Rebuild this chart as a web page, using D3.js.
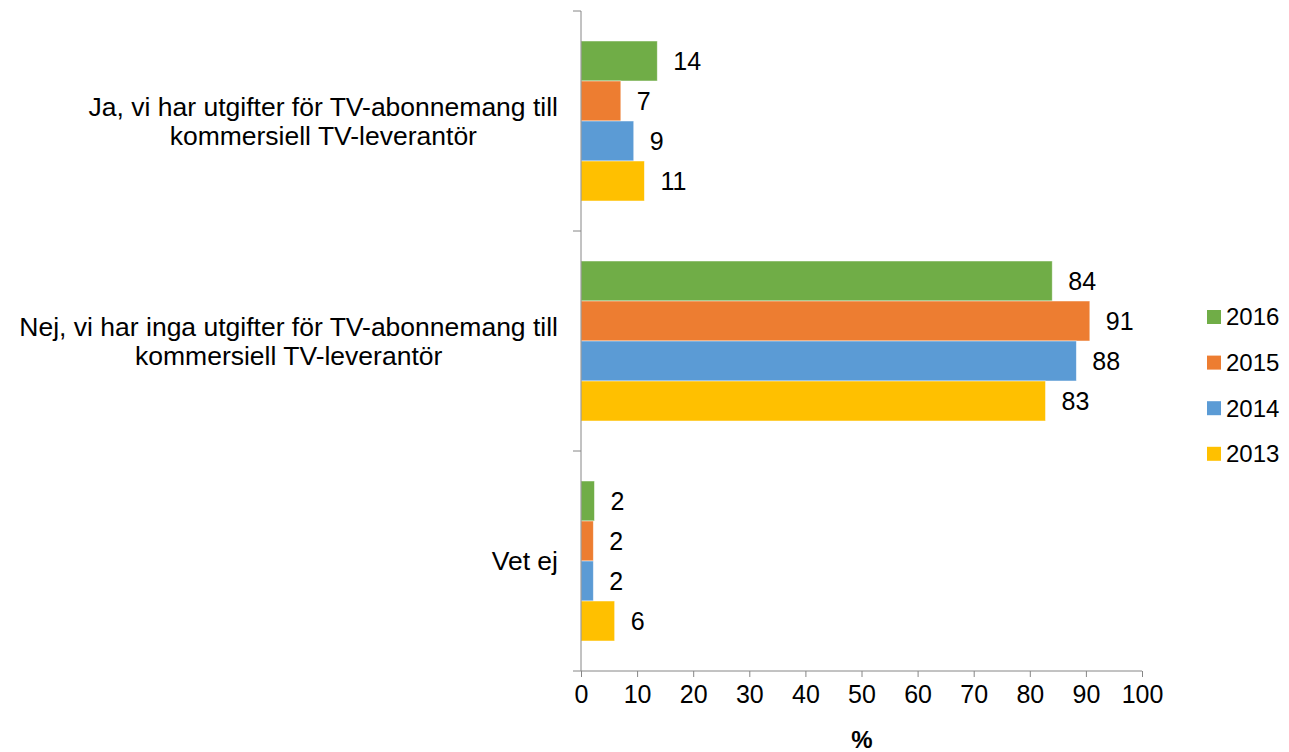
<!DOCTYPE html>
<meta charset="utf-8">
<style>
  body { margin: 0; background: #fff; }
  text { font-family: "Liberation Sans", Arial, sans-serif; fill: #000; }
  .axis path, .axis line { stroke: #868686; }
</style>
<body>
<script src="https://d3js.org/d3.v7.min.js"></script>
<script>

// categories (two-line labels) and series
var categories = ["Ja", "Nej", "Vet ej"];
var categoryLines = [
  ["Ja, vi har utgifter för TV-abonnemang till", "kommersiell TV-leverantör"],
  ["Nej, vi har inga utgifter för TV-abonnemang till", "kommersiell TV-leverantör"],
  ["Vet ej"]
];
var years = ["2016", "2015", "2014", "2013"];
var colors = ["#70AD47", "#ED7D31", "#5B9BD5", "#FFC000"];

// bar lengths, per year, in category order
var v2016 = [13.6, 84.0, 2.4];
var v2015 = [7.1, 90.7, 2.2];
var v2014 = [9.4, 88.3, 2.2];
var v2013 = [11.3, 82.8, 6.0];
// the printed data labels
var l2016 = [14, 84, 2];
var l2015 = [7, 91, 2];
var l2014 = [9, 88, 2];
var l2013 = [11, 83, 6];

var xTicks = [0, 10, 20, 30, 40, 50, 60, 70, 80, 90, 100];

var series = [v2016, v2015, v2014, v2013];
var labels = [l2016, l2015, l2014, l2013];

var W = 1289, H = 752;
var plotLeft = 581, plotRight = 1142, plotTop = 11, plotBottom = 671;

var svg = d3.select("body").append("svg")
    .attr("width", W)
    .attr("height", H);

var x = d3.scaleLinear().domain([0, 100]).range([plotLeft, plotRight]);
var y0 = d3.scaleBand().domain(categories).range([plotTop, plotBottom]);
var y1 = d3.scaleBand().domain(years).range([0, y0.bandwidth()]).paddingOuter(0.75);

// bars
var groups = svg.selectAll(".cat")
    .data(categories)
  .enter().append("g")
    .attr("class", "cat")
    .attr("transform", function(d) { return "translate(0," + y0(d) + ")"; });

groups.each(function(cat, ci) {
  var g = d3.select(this);
  years.forEach(function(yr, si) {
    g.append("rect")
      .attr("x", x(0))
      .attr("y", y1(yr))
      .attr("width", x(series[si][ci]) - x(0))
      .attr("height", y1.bandwidth())
      .attr("fill", colors[si])
      .attr("stroke", "rgba(255,255,255,0.6)")
      .attr("stroke-width", 0.8);
    g.append("text")
      .attr("x", x(series[si][ci]) + 16)
      .attr("y", y1(yr) + y1.bandwidth() / 2)
      .attr("dy", "0.35em")
      .style("font-size", "25px")
      .text(labels[si][ci]);
  });
});

// x axis
var xAxis = svg.append("g")
    .attr("class", "axis")
    .attr("transform", "translate(0," + plotBottom + ")")
    .call(d3.axisBottom(x).tickValues(xTicks).tickSize(6).tickSizeOuter(6).tickPadding(8));
xAxis.selectAll("text").style("font-size", "25px");
xAxis.select(".domain").attr("d", "M" + plotLeft + ",0H" + plotRight);

svg.append("text")
    .attr("x", 862)
    .attr("y", 740)
    .attr("dy", "0.35em")
    .attr("text-anchor", "middle")
    .style("font-size", "24px")
    .style("font-weight", "bold")
    .text("%");

// y axis: line with ticks at band boundaries
var yAxis = svg.append("g").attr("class", "axis");
yAxis.append("line")
    .attr("x1", plotLeft).attr("x2", plotLeft)
    .attr("y1", plotTop).attr("y2", plotBottom);
var bounds = categories.map(function(c) { return y0(c); }).concat([plotBottom]);
yAxis.selectAll(".tk")
    .data(bounds)
  .enter().append("line")
    .attr("class", "tk")
    .attr("x1", plotLeft - 8).attr("x2", plotLeft)
    .attr("y1", function(d) { return d; })
    .attr("y2", function(d) { return d; });

// category labels: block right-aligned at the axis, lines centred inside it
var catFs = 26.5;
categories.forEach(function(c, i) {
  var lines = categoryLines[i];
  var cy = y0(c) + y0.bandwidth() / 2;
  var lh = 29.5;
  var t = svg.append("text")
      .attr("text-anchor", "middle")
      .style("font-size", catFs + "px");
  var spans = lines.map(function(s, j) {
    return t.append("tspan")
      .attr("y", cy + (j - (lines.length - 1) / 2) * lh)
      .attr("dy", "0.35em")
      .text(s);
  });
  var widest = d3.max(spans, function(sp) { return sp.node().getComputedTextLength(); });
  spans.forEach(function(sp) { sp.attr("x", 558 - widest / 2); });
});

// legend
var legend = svg.append("g");
years.forEach(function(yr, i) {
  var ly = 317 + i * 45.6;
  legend.append("rect")
    .attr("x", 1207).attr("y", ly - 7)
    .attr("width", 14).attr("height", 14)
    .attr("fill", colors[i]);
  legend.append("text")
    .attr("x", 1226).attr("y", ly)
    .attr("dy", "0.35em")
    .style("font-size", "24px")
    .text(yr);
});

</script>
</body>
